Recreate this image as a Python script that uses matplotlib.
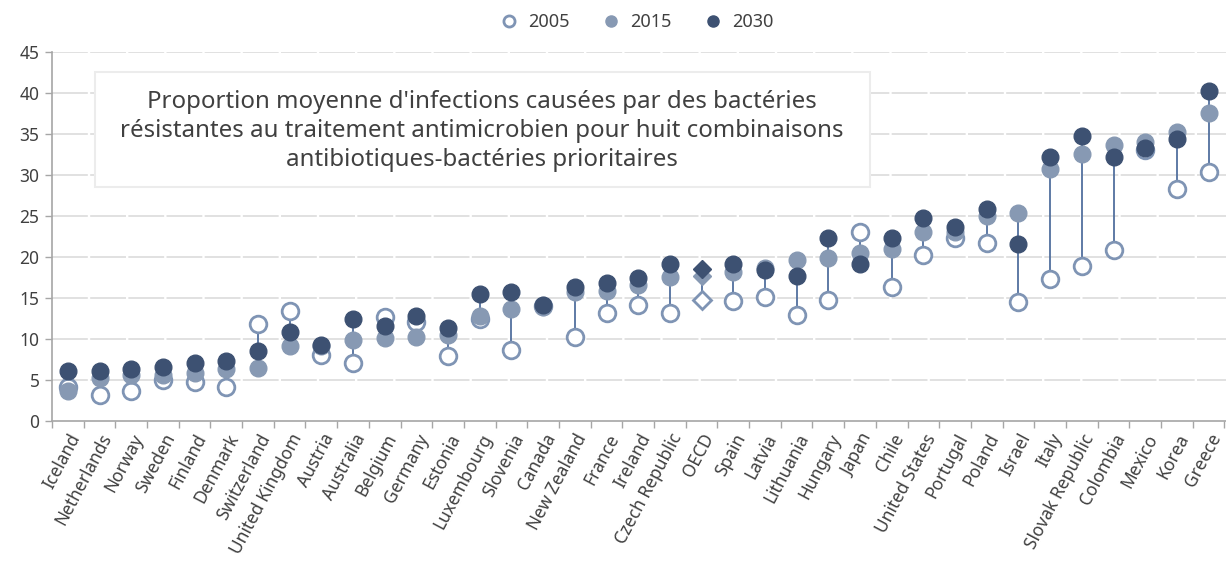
import numpy as np
import matplotlib.pyplot as plt
from matplotlib.patches import Rectangle
from matplotlib.lines import Line2D

plt.rcParams['font.family'] = ['Noto Sans', 'DejaVu Sans']

countries = ["Iceland", "Netherlands", "Norway", "Sweden", "Finland", "Denmark",
             "Switzerland", "United Kingdom", "Austria", "Australia", "Belgium",
             "Germany", "Estonia", "Luxembourg", "Slovenia", "Canada", "New Zealand",
             "France", "Ireland", "Czech Republic", "OECD", "Spain", "Latvia",
             "Lithuania", "Hungary", "Japan", "Chile", "United States", "Portugal",
             "Poland", "Israel", "Italy", "Slovak Republic", "Colombia", "Mexico",
             "Korea", "Greece"]
v2005 = [4.2, 3.2, 3.7, 5.0, 4.8, 4.2, 11.8, 13.4, 8.1, 7.1, 12.7, 12.1, 7.9,
         12.5, 8.7, 14.0, 10.2, 13.2, 14.2, 13.2, 14.8, 14.6, 15.1, 12.9, 14.7,
         23.1, 16.3, 20.2, 22.3, 21.7, 14.5, 17.3, 18.9, 20.9, 33.1, 28.3, 30.4]
v2015 = [3.6, 5.2, 5.6, 5.6, 5.9, 6.3, 6.5, 9.2, 9.2, 9.9, 10.1, 10.3, 10.5,
         12.8, 13.6, 13.9, 15.7, 15.9, 16.6, 17.6, 17.7, 18.2, 18.6, 19.6, 19.9,
         20.5, 21.0, 23.0, 23.1, 25.0, 25.4, 30.7, 32.5, 33.7, 34.0, 35.2, 37.5]
v2030 = [6.1, 6.1, 6.4, 6.6, 7.1, 7.3, 8.5, 10.9, 9.3, 12.4, 11.6, 12.8, 11.3,
         15.5, 15.7, 14.1, 16.4, 16.8, 17.5, 19.2, 18.5, 19.2, 18.4, 17.7, 22.3,
         19.2, 22.3, 24.7, 23.6, 25.9, 21.6, 32.2, 34.8, 32.2, 33.3, 34.4, 40.3]

c2005 = '#7f94b4'
c2015 = '#8799b3'
c2030 = '#3d5172'
cline = '#52709e'

fig = plt.figure(figsize=(12.26, 5.65), dpi=100)
ax = fig.add_axes([52 / 1226, 144 / 565, 1174 / 1226, 369 / 565])

x = np.arange(len(countries))
lo = np.minimum(np.minimum(v2005, v2015), v2030)
hi = np.maximum(np.maximum(v2005, v2015), v2030)
ax.vlines(x, lo, hi, color=cline, lw=1.3, zorder=2)

for i, name in enumerate(countries):
    m = 'D' if name == 'OECD' else 'o'
    ms = 9 if m == 'D' else 12
    ax.plot(i, v2005[i], marker=m, ms=ms, mfc='white', mec=c2005, mew=2.0, ls='none', zorder=3)
    ax.plot(i, v2015[i], marker=m, ms=ms, mfc=c2015, mec=c2015, ls='none', zorder=4)
    ax.plot(i, v2030[i], marker=m, ms=ms, mfc=c2030, mec=c2030, ls='none', zorder=5)

ax.set_xlim(-0.5, len(countries) - 0.5 + 0.05)
ax.set_ylim(0, 45)
ax.set_yticks(np.arange(0, 46, 5))
ax.set_xticks(x)
ax.set_xticklabels(countries, rotation=62, ha='right', rotation_mode='anchor',
                   fontsize=12.5, color='#404040')
ax.set_xticks(np.arange(-0.5, len(countries), 1), minor=True)
ax.tick_params(axis='x', which='major', length=0, pad=7)
ax.tick_params(axis='x', which='minor', length=5, color='#a6a6a6', width=1)
ax.tick_params(axis='y', length=5, color='#a6a6a6', width=1, labelsize=12.5,
               labelcolor='#404040', pad=4)

for s in ['top', 'right']:
    ax.spines[s].set_visible(False)
for s in ['left', 'bottom']:
    ax.spines[s].set_color('#a6a6a6')
    ax.spines[s].set_linewidth(1.2)

for yv in np.arange(5, 46, 5):
    ax.axhline(yv, color='#dcdcdc', lw=1.2, zorder=0, dashes=(21.5, 1.4), dash_capstyle='butt')

ax.add_patch(Rectangle((0.0366, 0.634), 0.66, 0.312, transform=ax.transAxes,
                       facecolor='white', edgecolor='#ececec', lw=1.5, zorder=6))
ax.text(0.366, 0.786,
        "Proportion moyenne d'infections causées par des bactéries\n"
        "résistantes au traitement antimicrobien pour huit combinaisons\n"
        "antibiotiques-bactéries prioritaires",
        transform=ax.transAxes, ha='center', va='center', fontsize=17.3,
        color='#404040', linespacing=1.28, zorder=7)

handles = [
    Line2D([], [], marker='o', ls='none', ms=8, mfc='white', mec=c2005, mew=2),
    Line2D([], [], marker='o', ls='none', ms=8, mfc=c2015, mec=c2015),
    Line2D([], [], marker='o', ls='none', ms=8, mfc=c2030, mec=c2030),
]
fig.legend(handles, ['2005', '2015', '2030'], loc='center', bbox_to_anchor=(632 / 1226, 1 - 22 / 565),
           ncol=3, frameon=False, fontsize=13, handletextpad=0.05, columnspacing=1.3,
           labelcolor='#404040')

fig.savefig('out.png', dpi=100)
